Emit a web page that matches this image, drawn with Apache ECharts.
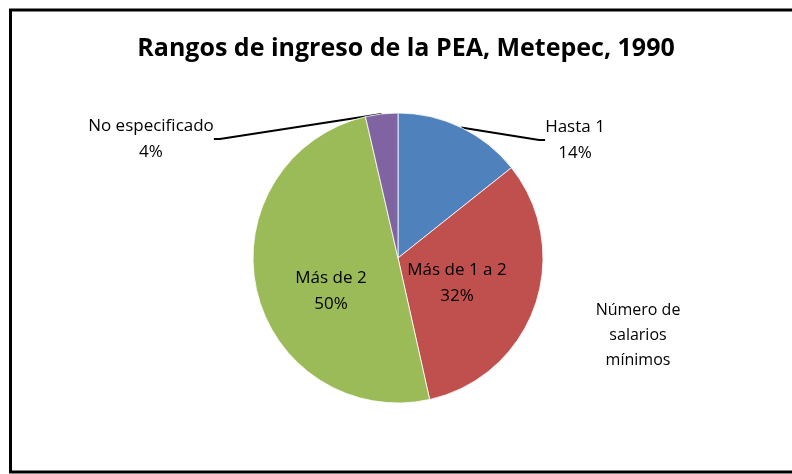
<!DOCTYPE html>
<html>
<head>
<meta charset="utf-8">
<script src="https://cdn.jsdelivr.net/npm/echarts@6/dist/echarts.min.js"></script>
<style>
  html, body { margin: 0; padding: 0; background: #fff; }
  #chart { width: 792px; height: 474px; }
</style>
</head>
<body>
<div id="chart"></div>
<script>
  // rangos de ingreso (número de salarios mínimos)
  let categories = ['Hasta 1', 'Más de 1 a 2', 'Más de 2', 'No especificado']
  let values = [14.3, 32.2, 49.9, 3.6]
  let colors = ['#4F81BD', '#C0504D', '#9BBB59', '#8064A2']
  let percentLabels = ['14%', '32%', '50%', '4%']

  // posiciones de las etiquetas (x, y del centro)
  let labelPos = [[575, 140], [457, 283], [331, 291], [151, 139]]

  let myChart = echarts.init(document.getElementById('chart'))

  let pieData = categories.map(function (name, i) {
    let outside = (i === 0 || i === 3)
    return {
      name: name,
      value: values[i],
      itemStyle: { color: colors[i] },
      label: { position: outside ? 'outside' : 'inside' },
      labelLine: { show: outside }
    }
  })

  myChart.setOption({
    animation: false,
    title: {
      text: 'Rangos de ingreso de la PEA, Metepec, 1990',
      left: 401,
      top: 31,
      textAlign: 'center',
      textStyle: { fontFamily: 'Open Sans', fontSize: 25, fontWeight: 'bold', color: '#000' }
    },
    graphic: [
      {
        type: 'rect',
        shape: { x: 10.5, y: 10, width: 800, height: 462 },
        style: { fill: 'none', stroke: '#000', lineWidth: 3 }
      },
      {
        type: 'text',
        x: 638,
        y: 298,
        style: {
          text: 'Número de\nsalarios\nmínimos',
          fontFamily: 'Open Sans',
          fontSize: 16,
          lineHeight: 25,
          align: 'center',
          fill: '#000'
        }
      }
    ],
    series: [{
      name: 'Número de salarios mínimos',
      type: 'pie',
      center: [398, 258],
      radius: 145,
      startAngle: 90,
      clockwise: true,
      data: pieData,
      itemStyle: { borderColor: '#fff', borderWidth: 0.8 },
      label: {
        formatter: function (p) { return p.name + '\n' + percentLabels[p.dataIndex] },
        fontFamily: 'Open Sans',
        fontSize: 17,
        lineHeight: 26,
        color: '#000',
        align: 'center'
      },
      labelLine: {
        length: 5,
        length2: 6,
        lineStyle: { color: '#000', width: 2 }
      },
      labelLayout: function (params) {
        let p = labelPos[params.dataIndex]
        return { x: p[0], y: p[1], align: 'center', verticalAlign: 'middle' }
      }
    }]
  })
</script>
</body>
</html>
